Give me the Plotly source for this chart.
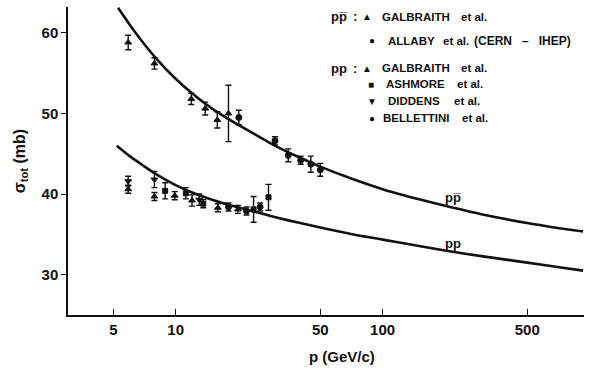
import plotly.graph_objects as go

# ---- data ----
# p-pbar measurements
pbar_gal_p = [5.9, 7.9, 11.9, 13.9, 15.9, 18.0]
pbar_gal_s = [58.8, 56.2, 51.8, 50.6, 49.2, 50.0]
pbar_gal_e = [0.9, 0.7, 0.7, 0.8, 1.0, 3.5]

pbar_all_p = [20.2, 30.2, 35.0, 40.2, 45.0, 50.0]
pbar_all_s = [49.5, 46.6, 44.8, 44.2, 43.7, 43.0]
pbar_all_e = [0.9, 0.5, 0.8, 0.5, 1.0, 0.8]

# p-p measurements
pp_gal_p = [5.9, 7.9, 9.9, 12.0, 16.0, 20.0]
pp_gal_s = [40.6, 39.7, 39.8, 39.2, 38.3, 38.1]
pp_gal_e = [0.5, 0.5, 0.5, 0.7, 0.5, 0.5]

pp_ash_p = [8.9, 11.2, 13.6, 23.8, 28.1]
pp_ash_s = [40.4, 40.1, 38.8, 38.1, 39.6]
pp_ash_e = [1.0, 0.7, 0.5, 1.6, 1.6]

pp_did_p = [5.9, 7.9, 13.0]
pp_did_s = [41.6, 41.8, 39.3]
pp_did_e = [0.6, 1.0, 0.7]

pp_bel_p = [18.0, 22.0, 25.6]
pp_bel_s = [38.4, 37.9, 38.4]
pp_bel_e = [0.5, 0.5, 0.5]

# fitted curves
curve_pbar_p = [5.27, 6, 7, 8, 10, 12, 15, 20, 25, 30, 40, 50, 70, 100, 150, 200, 300, 500, 700, 930]
curve_pbar_s = [63.1, 61.0, 58.7, 56.9, 54.3, 52.5, 50.6, 48.6, 47.2, 46.05, 44.5, 43.4,
                41.95, 40.6, 39.35, 38.55, 37.5, 36.4, 35.8, 35.35]

curve_pp_p = [5.2, 6, 7, 8, 10, 12, 15, 20, 25, 30, 40, 50, 70, 100, 150, 200, 300, 500, 700, 930]
curve_pp_s = [46.0, 44.7, 43.5, 42.5, 41.1, 40.2, 39.3, 38.35, 37.7, 37.15, 36.4, 35.85,
              35.05, 34.35, 33.55, 33.0, 32.3, 31.5, 30.95, 30.5]

x_ticks = [5, 10, 50, 100, 500]
y_ticks = [30, 40, 50, 60]

FONT = "Liberation Sans"
BLACK = "#111111"

fig = go.Figure()

for px_, sy in [(curve_pbar_p, curve_pbar_s), (curve_pp_p, curve_pp_s)]:
    fig.add_trace(go.Scatter(x=px_, y=sy, mode="lines",
                             line=dict(color=BLACK, width=2.6, shape="spline", smoothing=0.6),
                             showlegend=False, hoverinfo="skip"))

def pts(xs, ys, es, sym, size=6):
    fig.add_trace(go.Scatter(
        x=xs, y=ys, mode="markers",
        marker=dict(symbol=sym, size=size, color=BLACK,
                    line=dict(color=BLACK, width=1)),
        error_y=dict(type="data", array=es, visible=True, color=BLACK,
                     thickness=1.4, width=3),
        showlegend=False, hoverinfo="skip"))

pts(pbar_gal_p, pbar_gal_s, pbar_gal_e, "triangle-up")
pts(pbar_all_p, pbar_all_s, pbar_all_e, "circle")
pts(pp_gal_p, pp_gal_s, pp_gal_e, "triangle-up")
pts(pp_ash_p, pp_ash_s, pp_ash_e, "square", 5)
pts(pp_did_p, pp_did_s, pp_did_e, "triangle-down")
pts(pp_bel_p, pp_bel_s, pp_bel_e, "circle")

fig.update_layout(
    width=593, height=372,
    margin=dict(l=68, r=9, t=7, b=57),
    paper_bgcolor="white", plot_bgcolor="white",
    font=dict(family=FONT, color=BLACK, size=13),
    xaxis=dict(type="log", range=[0.48, 2.973], tickvals=x_ticks,
               ticktext=[str(v) for v in x_ticks],
               ticks="inside", ticklen=6, tickwidth=1.2, tickcolor=BLACK,
               showline=True, linecolor=BLACK, linewidth=1.5,
               showgrid=False, zeroline=False, mirror=False,
               tickfont=dict(family=FONT, size=15, weight="bold")),
    yaxis=dict(range=[25, 63.2], tickvals=y_ticks,
               ticks="outside", ticklen=5, tickwidth=1.2, tickcolor=BLACK,
               showline=True, linecolor=BLACK, linewidth=1.5,
               showgrid=False, zeroline=False,
               tickfont=dict(family=FONT, size=15, weight="bold"),
               title=dict(text="σ<sub>tot</sub> (mb)", font=dict(family=FONT, size=16, weight="bold"),
                          standoff=12)),
)

# plot area: x 68..584 px, y 7..315 px
def X(px_):
    return (px_ - 68) / 516
def Y(py):
    return 1 - (py - 7) / 308

def txt(x, y, s, anchor="left", size=11.5):
    fig.add_annotation(x=X(x), y=Y(y), xref="paper", yref="paper", text=s, showarrow=False,
                       xanchor=anchor, yanchor="middle",
                       font=dict(family=FONT, size=size, color=BLACK, weight="bold"))

# x-axis title
txt(342, 356, "p (GeV/c)", anchor="center", size=15)

# legend block
rows = [
    (17, "pp\u0305", "▲", 367, [("GALBRAITH", 380), ("et al.", 459)]),
    (41, None, "●", 372, [("ALLABY", 386), ("et al.", 441), ("(CERN   –   IHEP)", 472)]),
    (68, "pp", "▲", 367, [("GALBRAITH", 380), ("et al.", 459)]),
    (84, None, "■", 371, [("ASHMORE", 384), ("et al.", 455)]),
    (101, None, "▼", 372, [("DIDDENS", 386), ("et al.", 452)]),
    (118, None, "●", 372, [("BELLETTINI", 381), ("et al.", 460)]),
]
for py, lab, sym, sx, parts in rows:
    if lab:
        txt(329, py, lab, size=13)
        txt(351, py, ":", size=13)
    txt(sx, py, sym, anchor="center", size=10)
    for s, xx in parts:
        txt(xx, py, s, size=12 if s.startswith("(") else 11.5)

# curve labels
txt(443, 197, "pp\u0305", size=13)
txt(443, 244, "pp", size=13)

fig.write_html("out.html")
